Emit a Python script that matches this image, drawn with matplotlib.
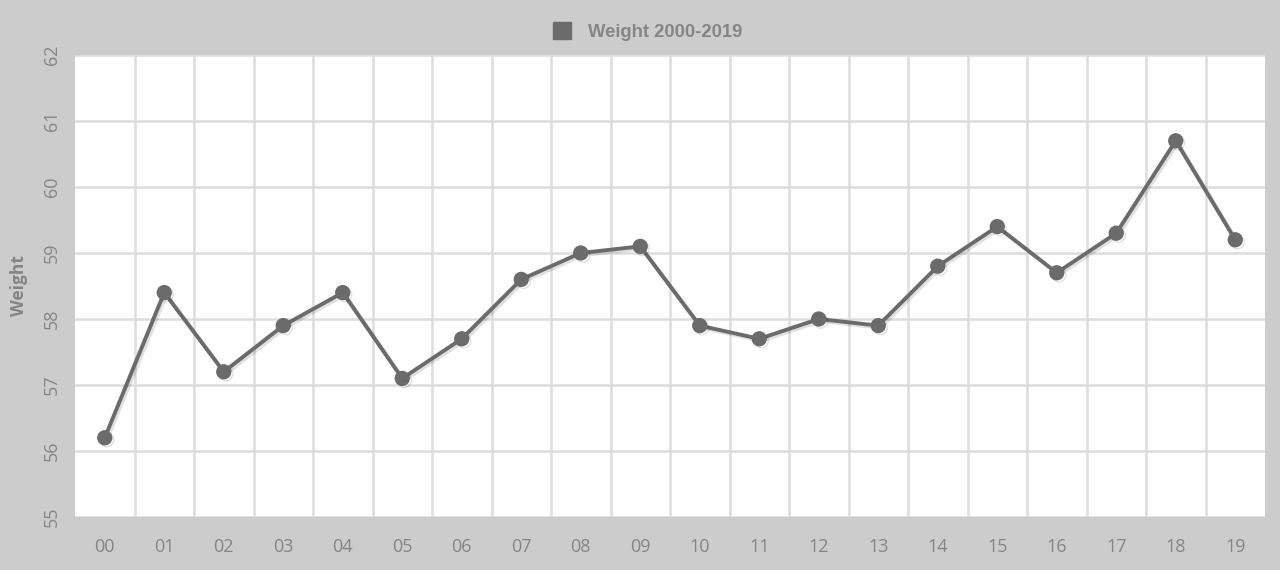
import matplotlib
matplotlib.use("Agg")
import matplotlib.pyplot as plt
import matplotlib.patheffects as pe
from matplotlib.patches import Patch

years = ["00", "01", "02", "03", "04", "05", "06", "07", "08", "09",
         "10", "11", "12", "13", "14", "15", "16", "17", "18", "19"]
weight = [56.2, 58.4, 57.2, 57.9, 58.4, 57.1, 57.7, 58.6, 59.0, 59.1,
          57.9, 57.7, 58.0, 57.9, 58.8, 59.4, 58.7, 59.3, 60.7, 59.2]
y_ticks = [55, 56, 57, 58, 59, 60, 61, 62]

bg = "#cccccc"
line_col = "#6b6b6b"
txt_col = "#858585"

fig = plt.figure(figsize=(12.8, 5.7), dpi=100, facecolor=bg)
ax = fig.add_axes([75 / 1280, 1 - 517 / 570, 1190 / 1280, 462 / 570])
ax.set_facecolor("white")

x = list(range(len(years)))
ax.plot(x, weight, color=line_col, linewidth=2.8, marker="o", markersize=10,
        markerfacecolor=line_col, markeredgecolor=line_col, zorder=3,
        path_effects=[pe.SimpleLineShadow(offset=(1.5, -1.5), shadow_color="k", alpha=0.12),
                      pe.Normal()])

ax.set_xlim(-0.5, len(years) - 0.5)
ax.set_ylim(55, 62)
ax.set_xticks(x)
ax.set_xticklabels(years)
ax.set_xticks([i + 0.5 for i in x[:-1]], minor=True)
ax.set_yticks(y_ticks)
ax.set_yticklabels([str(v) for v in y_ticks], rotation=90, va="center")

ax.grid(True, which="minor", axis="x", color="#dddddd", linewidth=1.8)
ax.grid(True, which="major", axis="y", color="#dddddd", linewidth=1.8)
ax.set_axisbelow(True)
for s in ax.spines.values():
    s.set_visible(False)

ax.tick_params(axis="both", which="both", length=0, colors=txt_col, labelsize=13)
ax.tick_params(axis="x", pad=15)
ax.tick_params(axis="y", pad=10)
for lab in ax.get_xticklabels() + ax.get_yticklabels():
    lab.set_fontfamily("Open Sans")

ax.set_ylabel("Weight", color=txt_col, fontsize=12.5, fontweight="bold",
              fontfamily="Open Sans", labelpad=11)

handle = Patch(facecolor=line_col, edgecolor=line_col)
leg = fig.legend([handle], ["Weight 2000-2019"], loc="center", bbox_to_anchor=(0.506, 0.945),
                 frameon=False, handlelength=1.0, handleheight=1.0, handletextpad=0.9,
                 prop={"family": "Liberation Sans", "weight": "bold", "size": 13.3})
for t in leg.get_texts():
    t.set_color(txt_col)

fig.savefig("out.png", dpi=100, facecolor=bg)
